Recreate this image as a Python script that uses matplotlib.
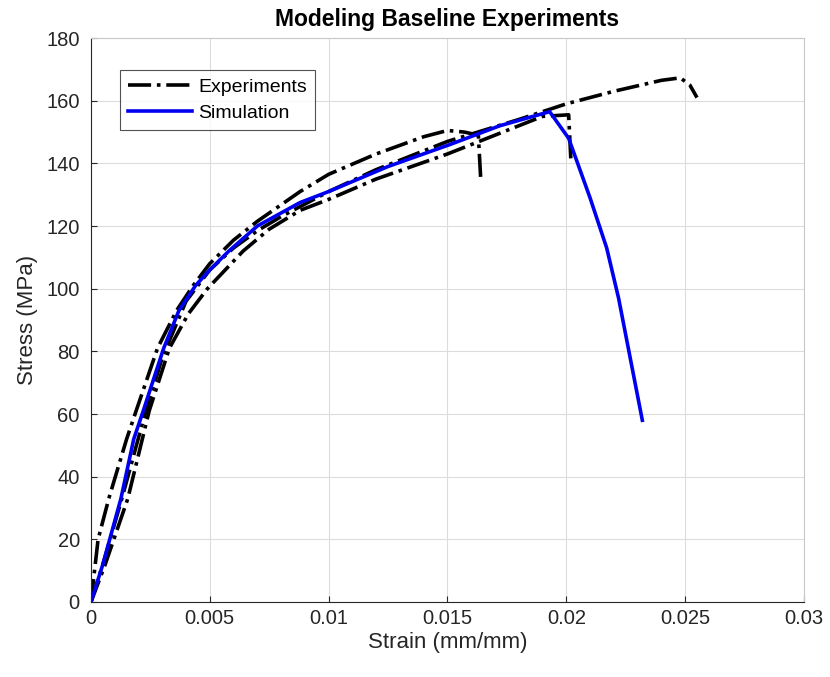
import matplotlib
matplotlib.use("Agg")
import matplotlib.pyplot as plt
import numpy as np

plt.rcParams['font.family'] = ['Liberation Sans', 'DejaVu Sans']

# tensile tests (strain mm/mm, stress MPa)
exp1_strain = [0, 0.0005, 0.0013, 0.0022, 0.003, 0.004, 0.005, 0.006, 0.007, 0.008, 0.010,
               0.012, 0.015, 0.018, 0.020, 0.022, 0.024, 0.0248, 0.0252, 0.0255]
exp1_stress = [0, 12, 33, 58, 78, 96, 106, 113, 118.5, 123, 131,
               138, 147, 154, 159, 163, 166.5, 167.3, 165, 161]

exp2_strain = [0, 0.0003, 0.00075, 0.0015, 0.0019, 0.0028, 0.0036, 0.0043, 0.005, 0.006,
               0.007, 0.0088, 0.010, 0.012, 0.014, 0.015, 0.0157, 0.0163, 0.0164]
exp2_stress = [0, 20, 33, 52, 61, 81, 93, 101, 108, 115.5,
               121.5, 131, 136.5, 143, 148.5, 150.5, 150, 149, 135]

exp3_strain = [0, 0.0006, 0.00155, 0.00245, 0.0033, 0.0041, 0.0049, 0.0064, 0.0075, 0.0088,
               0.010, 0.012, 0.015, 0.017, 0.019, 0.0201, 0.0202]
exp3_stress = [0, 12, 33, 61, 81, 92, 100, 112, 119, 125,
               128.5, 135, 143, 149, 155, 155.5, 140]

sim_strain = [0, 0.0005, 0.00126, 0.0018, 0.0022, 0.00306, 0.0037, 0.0044, 0.005, 0.0058,
              0.007, 0.0088, 0.010, 0.0125, 0.0151, 0.0172, 0.0193, 0.0201, 0.021, 0.0217,
              0.0222, 0.0232]
sim_stress = [0, 12, 33, 52, 61, 81, 93, 101, 106, 112,
              120, 127.5, 131, 139, 146, 152, 156.5, 148, 129, 113,
              97, 58]

fig = plt.figure(figsize=(8.3, 6.77), dpi=100)
ax = fig.add_axes([0.1096, 0.1108, 0.859, 0.833])

exp_style = dict(color='black', linestyle='-.', linewidth=2.6)
ax.plot(exp1_strain, exp1_stress, label='Experiments', **exp_style)
ax.plot(exp2_strain, exp2_stress, **exp_style)
ax.plot(exp3_strain, exp3_stress, **exp_style)
ax.plot(sim_strain, sim_stress, color='#0000f0', linewidth=2.6, label='Simulation')

ax.set_xlim(0, 0.03)
ax.set_ylim(0, 180)
ax.set_xticks(np.arange(0, 0.0301, 0.005))
ax.set_xticklabels(['0', '0.005', '0.01', '0.015', '0.02', '0.025', '0.03'])
ax.set_yticks(np.arange(0, 181, 20))

ax.grid(True, color='#dcdcdc', linewidth=0.8)
ax.set_axisbelow(True)
ax.tick_params(direction='in', length=4, labelsize=14.5, colors='#262626',
               top=False, right=False)
ax.tick_params(axis='x', pad=5)
ax.tick_params(axis='y', pad=8)
for side in ['left', 'bottom']:
    ax.spines[side].set_color('#262626')
for side in ['top', 'right']:
    ax.spines[side].set_color('#c8c8c8')

ax.set_xlabel('Strain (mm/mm)', fontsize=16, color='#262626', labelpad=3)
ax.set_ylabel('Stress (MPa)', fontsize=16, color='#262626', labelpad=6)
ax.set_title('Modeling Baseline Experiments', fontsize=16.5, fontweight='bold', pad=9)

leg = ax.legend(loc='upper left', bbox_to_anchor=(0.041, 0.943), fontsize=14,
                frameon=True, fancybox=False, handlelength=3.3, handletextpad=0.3,
                borderpad=0.4, labelspacing=0.45, borderaxespad=0)
leg.get_frame().set_edgecolor('#262626')
leg.get_frame().set_linewidth(0.8)

fig.savefig('out.png', dpi=100)
